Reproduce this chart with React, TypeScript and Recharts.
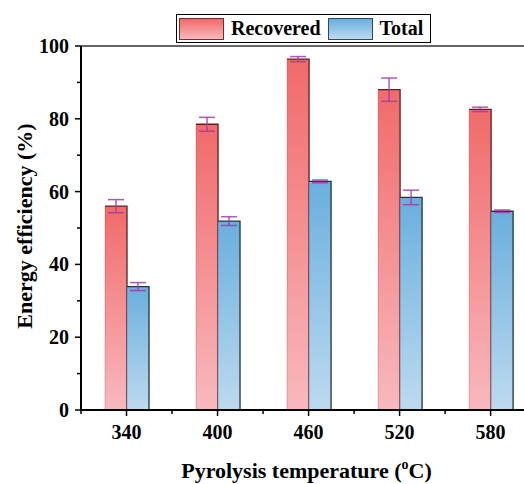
import { Bar, BarChart, ErrorBar, Label, ReferenceLine, XAxis, YAxis } from 'recharts'

const temps = [340, 400, 460, 520, 580]
const recovered = [56.0, 78.5, 96.4, 88.0, 82.6]
const recoveredErr = [1.8, 1.9, 0.7, 3.2, 0.6]
const total = [33.9, 51.9, 62.8, 58.4, 54.6]
const totalErr = [1.1, 1.2, 0.4, 2.0, 0.35]

const yTicks = [0, 10, 20, 30, 40, 50, 60, 70, 80, 90, 100]
const xTicks = [310, 340, 370, 400, 430, 460, 490, 520, 550, 580]
const xMajor = [340, 400, 460, 520, 580]
const yMajor = [0, 20, 40, 60, 80, 100]

const data = temps.map((t, i) => ({
  temp: t,
  recovered: recovered[i],
  recoveredErr: recoveredErr[i],
  total: total[i],
  totalErr: totalErr[i],
}))

const FONT = "'Liberation Serif', 'DejaVu Serif', serif"

const YTick = ({ x, y, payload }: any) => {
  const major = yMajor.includes(payload.value)
  return (
    <g>
      <line x1={x} x2={x - (major ? 6 : 4)} y1={y} y2={y} stroke="#000" strokeWidth={1.5} />
      {major && (
        <text x={x - 12} y={y} dy="0.35em" textAnchor="end" fontFamily={FONT} fontWeight="bold" fontSize={20} fill="#000">
          {payload.value}
        </text>
      )}
    </g>
  )
}

const XTick = ({ x, y, payload }: any) => {
  const major = xMajor.includes(payload.value)
  return (
    <g>
      <line x1={x} x2={x} y1={y} y2={y + (major ? 6 : 4)} stroke="#000" strokeWidth={1.5} />
      {major && (
        <text x={x} y={y + 29} textAnchor="middle" fontFamily={FONT} fontWeight="bold" fontSize={20} fill="#000">
          {payload.value}
        </text>
      )}
    </g>
  )
}

// bar with gradient fill and dark top/right edges
const makeShape = (gradId: string, edge: string) => (props: any) => {
  const { x, y, width, height } = props
  return (
    <g>
      <rect x={x} y={y} width={width} height={height} fill={`url(#${gradId})`} />
      <line x1={x} x2={x} y1={y} y2={y + height} stroke={edge} strokeOpacity={0.25} />
      <polyline
        points={`${x},${y} ${x + width},${y} ${x + width},${y + height}`}
        fill="none"
        stroke={edge}
        strokeWidth={1.3}
      />
    </g>
  )
}

const RecShape = makeShape('gradRed', '#5e1f1f')
const TotShape = makeShape('gradBlue', '#1f3444')

const Swatch = ({ from, to, edge }: { from: string; to: string; edge: string }) => (
  <div
    style={{
      width: 45,
      height: 22,
      background: `linear-gradient(${from}, ${to})`,
      border: `1px solid ${edge}`,
      boxSizing: 'border-box',
    }}
  />
)

export default function App() {
  return (
    <div style={{ position: 'absolute', left: 0, top: 0, width: 524, height: 484, background: '#fff' }}>
      <BarChart width={524} height={484} data={data} margin={{ top: 46, right: 0, bottom: 0, left: 0 }} barGap={0}>
        <defs>
          <linearGradient id="gradRed" x1="0" y1="0" x2="0" y2="1">
            <stop offset="0%" stopColor="#f16a6a" />
            <stop offset="100%" stopColor="#f8b9be" />
          </linearGradient>
          <linearGradient id="gradBlue" x1="0" y1="0" x2="0" y2="1">
            <stop offset="0%" stopColor="#6aafdd" />
            <stop offset="100%" stopColor="#bddaef" />
          </linearGradient>
        </defs>
        <XAxis
          dataKey="temp"
          type="number"
          domain={[310, 602]}
          ticks={xTicks}
          allowDataOverflow
          height={74}
          tickSize={0}
          tickMargin={0}
          tick={<XTick />}
          axisLine={{ stroke: '#000', strokeWidth: 2 }}
          tickLine={false}
          interval={0}
        >
          <Label
            content={({ viewBox }: any) => (
              <text
                x={viewBox.x + viewBox.width / 2 + 4}
                y={viewBox.y + 68}
                textAnchor="middle"
                fontFamily={FONT}
                fontWeight="bold"
                fontSize={22}
                fill="#000"
              >
                Pyrolysis temperature (<tspan dy={-9} fontSize={14}>o</tspan>
                <tspan dy={9}>C)</tspan>
              </text>
            )}
          />
        </XAxis>
        <YAxis
          width={81}
          domain={[0, 100]}
          ticks={yTicks}
          interval={0}
          tickSize={0}
          tickMargin={0}
          tick={<YTick />}
          axisLine={{ stroke: '#000', strokeWidth: 2 }}
          tickLine={false}
        >
          <Label
            content={({ viewBox }: any) => (
              <text
                transform={`translate(${viewBox.x + 32}, ${viewBox.y + viewBox.height / 2 - 2}) rotate(-90)`}
                textAnchor="middle"
                fontFamily={FONT}
                fontWeight="bold"
                fontSize={22}
                fill="#000"
              >
                Energy efficiency (%)
              </text>
            )}
          />
        </YAxis>
        <ReferenceLine y={100} stroke="#333" strokeWidth={1.5} />
        <Bar dataKey="recovered" barSize={22} shape={RecShape} isAnimationActive={false}>
          <ErrorBar dataKey="recoveredErr" direction="y" width={8} stroke="#a03ca8" strokeWidth={1.5} strokeOpacity={0.85} />
        </Bar>
        <Bar dataKey="total" barSize={22} shape={TotShape} isAnimationActive={false}>
          <ErrorBar dataKey="totalErr" direction="y" width={8} stroke="#a03ca8" strokeWidth={1.5} strokeOpacity={0.85} />
        </Bar>
      </BarChart>
      <div
        style={{
          position: 'absolute',
          left: 176,
          top: 14,
          width: 255,
          height: 29,
          border: '1px solid #000',
          boxSizing: 'border-box',
          display: 'flex',
          alignItems: 'center',
          paddingLeft: 2,
          fontFamily: FONT,
          fontWeight: 'bold',
          fontSize: 20,
          background: '#fff',
        }}
      >
        <Swatch from="#f16a6a" to="#f8b9be" edge="#7a2a2a" />
        <span style={{ marginLeft: 7, marginRight: 7 }}>Recovered</span>
        <Swatch from="#6aafdd" to="#bddaef" edge="#2b4a5e" />
        <span style={{ marginLeft: 7 }}>Total</span>
      </div>
    </div>
  )
}
